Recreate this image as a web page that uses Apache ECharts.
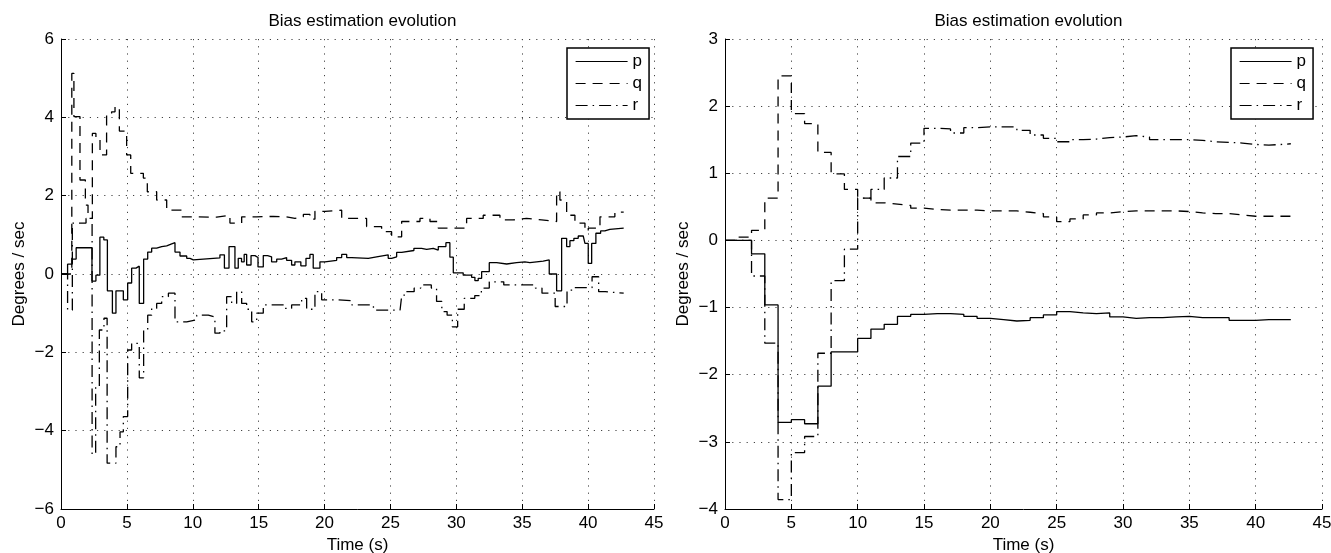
<!DOCTYPE html>
<html>
<head>
<meta charset="utf-8">
<script src="https://cdn.jsdelivr.net/npm/echarts/dist/echarts.min.js"></script>
<style>
  html, body { margin: 0; padding: 0; background: #fff; }
  #chart { width: 1331px; height: 553px; }
</style>
</head>
<body>
<div id="chart"></div>
<script>
// ---- Left panel: bias estimates (step changes at irregular update times) ----
const leftPTime = [0, 0.5, 0.85, 1.15, 2.35, 2.65, 2.95, 3.25, 3.52, 3.9, 4.17, 4.73, 5.06, 5.36, 5.69, 5.94, 6.27, 6.58, 6.88, 7.26, 7.64, 8.02, 8.4, 8.65, 9.03, 9.54, 9.79, 10.04, 12.06, 12.4, 12.75, 13.2, 13.45, 13.7, 13.9, 14.09, 14.42, 14.72, 14.95, 15.35, 15.68, 15.98, 16.37, 16.74, 17.12, 17.5, 17.75, 18.2, 18.59, 18.89, 19.14, 19.65, 20.03, 20.92, 21.3, 21.68, 22.06, 23.32, 23.95, 24.83, 25.09, 25.47, 25.85, 26.78, 27.36, 27.75, 28.25, 28.63, 29.21, 29.51, 29.77, 30.52, 31.16, 31.41, 31.66, 31.92, 32.5, 33.06, 33.82, 34.57, 35.2, 35.58, 36.09, 36.59, 37.05, 37.61, 37.99, 38.37, 38.62, 38.92, 39.25, 39.63, 39.76, 40.01, 40.27, 40.59, 40.95, 41.27, 41.65, 42.7];
const leftP = [0, 0.25, 0.38, 0.67, -0.18, -0.03, 0.94, 0.87, -0.43, -1.0, -0.43, -0.66, -0.23, 0.15, 0.2, -0.75, 0.38, 0.56, 0.66, 0.7, 0.72, 0.77, 0.8, 0.56, 0.46, 0.4, 0.36, 0.41, 0.49, 0.15, 0.70, 0.15, 0.40, 0.31, 0.5, 0.23, 0.47, 0.42, 0.18, 0.47, 0.44, 0.31, 0.38, 0.42, 0.35, 0.23, 0.31, 0.21, 0.40, 0.50, 0.15, 0.31, 0.35, 0.42, 0.50, 0.42, 0.40, 0.44, 0.49, 0.40, 0.44, 0.55, 0.6, 0.655, 0.63, 0.655, 0.61, 0.70, 0.80, 0.43, 0.03, -0.03, -0.085, -0.17, -0.11, 0.06, 0.29, 0.255, 0.29, 0.31, 0.29, 0.31, 0.33, 0.36, 0.0, -0.43, 0.91, 0.70, 0.85, 0.91, 0.97, 1.0, 0.78, 0.27, 0.78, 1.04, 1.10, 1.14, 1.17, 1.17];

const leftQTime = [0, 0.82, 0.98, 1.44, 1.85, 2.05, 2.38, 2.65, 2.96, 3.46, 3.84, 4.1, 4.43, 4.98, 5.29, 6.25, 6.55, 7.26, 8.02, 9.16, 10.3, 11.81, 12.82, 13.71, 14.85, 16.11, 17.07, 17.75, 18.39, 18.89, 19.27, 20.03, 21.3, 23.19, 24.33, 25.09, 25.85, 27.24, 28.0, 28.63, 30.78, 32.04, 33.31, 34.32, 35.33, 36.47, 37.61, 37.86, 38.37, 39.0, 39.76, 40.01, 40.9, 42.03, 42.7];
const leftQ = [0, 5.12, 4.02, 2.4, 1.76, 1.42, 3.59, 3.45, 3.04, 4.06, 4.14, 4.27, 3.65, 3.04, 2.57, 2.45, 2.1, 1.89, 1.63, 1.46, 1.45, 1.5, 1.3, 1.46, 1.47, 1.46, 1.42, 1.46, 1.52, 1.4, 1.6, 1.63, 1.42, 1.21, 1.08, 0.95, 1.34, 1.42, 1.34, 1.17, 1.42, 1.5, 1.38, 1.42, 1.38, 1.34, 2.1, 1.89, 1.5, 1.3, 1.1, 1.17, 1.46, 1.58, 1.58];

const leftRTime = [0, 0.5, 0.86, 1.9, 2.36, 2.63, 2.91, 3.26, 3.5, 4.17, 4.48, 4.73, 5.06, 5.36, 5.94, 6.27, 6.58, 6.88, 7.26, 7.64, 8.15, 8.65, 9.54, 10.3, 11.18, 11.68, 12.06, 12.57, 12.95, 13.33, 13.71, 14.09, 14.47, 14.85, 15.35, 15.98, 16.87, 17.5, 18.26, 18.64, 19.27, 19.78, 21.06, 22.07, 23.71, 25.73, 25.86, 26.1, 26.8, 27.3, 28.1, 28.5, 28.9, 29.3, 29.7, 30.1, 30.6, 31.4, 31.9, 32.5, 33.6, 35.1, 36.0, 36.5, 37.5, 38.4, 38.9, 40.3, 40.8, 41.3, 42.7];
const leftR = [0, -0.92, 1.3, 1.42, -4.6, -2.88, -1.43, -1.13, -4.83, -4.41, -4.03, -3.64, -1.94, -1.77, -2.65, -1.43, -1.05, -0.88, -0.75, -0.58, -0.49, -1.22, -1.17, -1.05, -1.1, -1.51, -1.45, -0.58, -0.75, -0.45, -0.75, -0.9, -1.22, -1.0, -0.79, -0.79, -0.88, -0.79, -0.62, -0.9, -0.45, -0.66, -0.68, -0.79, -0.92, -0.9, -0.54, -0.45, -0.36, -0.28, -0.36, -0.7, -0.96, -1.05, -1.35, -0.9, -0.62, -0.55, -0.36, -0.2, -0.28, -0.28, -0.36, -0.49, -0.83, -0.41, -0.35, -0.07, -0.45, -0.49, -0.49];

// ---- Right panel: bias estimates updated once per second ----
const rightTime = [0, 1, 2, 3, 4, 5, 6, 7, 8, 9, 10, 11, 12, 13, 14, 15, 16, 17, 18, 19, 20, 21, 22, 23, 24, 25, 26, 27, 28, 29, 30, 31, 32, 33, 34, 35, 36, 37, 38, 39, 40, 41, 42, 42.65];
const rightP = [0, 0, -0.2, -0.96, -2.71, -2.67, -2.73, -2.17, -1.66, -1.66, -1.46, -1.32, -1.25, -1.13, -1.1, -1.09, -1.09, -1.1, -1.13, -1.16, -1.18, -1.2, -1.19, -1.15, -1.11, -1.06, -1.08, -1.09, -1.08, -1.14, -1.16, -1.15, -1.15, -1.14, -1.13, -1.15, -1.15, -1.15, -1.19, -1.19, -1.18, -1.18, -1.18, -1.18];
const rightQ = [0, 0.05, 0.15, 0.63, 2.45, 1.89, 1.74, 1.31, 0.99, 0.76, 0.63, 0.56, 0.54, 0.52, 0.48, 0.46, 0.45, 0.45, 0.45, 0.44, 0.44, 0.44, 0.42, 0.40, 0.35, 0.28, 0.32, 0.38, 0.41, 0.43, 0.44, 0.44, 0.44, 0.44, 0.43, 0.41, 0.40, 0.40, 0.38, 0.36, 0.36, 0.36, 0.36, 0.36];
const rightR = [0, 0, -0.53, -1.53, -3.86, -3.16, -2.92, -1.68, -0.6, -0.13, 0.63, 0.76, 0.93, 1.25, 1.45, 1.67, 1.66, 1.6, 1.68, 1.69, 1.69, 1.69, 1.64, 1.57, 1.52, 1.47, 1.5, 1.51, 1.53, 1.54, 1.56, 1.54, 1.5, 1.5, 1.5, 1.49, 1.47, 1.46, 1.45, 1.43, 1.42, 1.43, 1.44, 1.44];

const xTicks = { min: 0, max: 45, interval: 5 };
const leftYTicks = { min: -6, max: 6, interval: 2 };
const rightYTicks = { min: -4, max: 3, interval: 1 };
const seriesNames = ['p', 'q', 'r'];
const titleText = 'Bias estimation evolution';
const xName = 'Time (s)';
const yName = 'Degrees / sec';

const FONT = '"Liberation Sans", Arial, Helvetica, sans-serif';
const BLACK = '#000';
const LINE_W = 1.3;
const DASH_Q = [10, 7];
const DASH_R = [12, 5, 1.5, 5];

function pairs(t, v) {
  const out = [];
  for (let i = 0; i < Math.min(t.length, v.length); i++) out.push([t[i], v[i]]);
  return out;
}
const minusFmt = v => String(v).replace('-', '\u2212');

function xAxisFor(gridIndex) {
  return {
    type: 'value', gridIndex, min: xTicks.min, max: xTicks.max, interval: xTicks.interval,
    name: xName, nameLocation: 'middle', nameGap: 25,
    nameTextStyle: { color: BLACK, fontSize: 17, fontFamily: FONT },
    axisLine: { show: true, onZero: false, lineStyle: { color: BLACK, width: 1 } },
    axisTick: { show: true, inside: true, length: 5, lineStyle: { color: BLACK } },
    axisLabel: { color: BLACK, fontSize: 17, fontFamily: FONT, margin: 6, formatter: minusFmt },
    splitLine: { show: true, lineStyle: { color: '#444', width: 1, type: [1.2, 6] } }
  };
}
function yAxisFor(gridIndex, ticks) {
  return {
    type: 'value', gridIndex, min: ticks.min, max: ticks.max, interval: ticks.interval,
    name: yName, nameLocation: 'middle', nameGap: 33,
    nameTextStyle: { color: BLACK, fontSize: 17, fontFamily: FONT },
    axisLine: { show: true, onZero: false, lineStyle: { color: BLACK, width: 1 } },
    axisTick: { show: true, inside: true, length: 5, lineStyle: { color: BLACK } },
    axisLabel: { color: BLACK, fontSize: 17, fontFamily: FONT, margin: 7, formatter: minusFmt },
    splitLine: { show: true, lineStyle: { color: '#444', width: 1, type: [1.2, 6] } }
  };
}
function stepSeries(name, data, gridIndex, dash) {
  return {
    name, type: 'line', step: 'end', symbol: 'none', showSymbol: false,
    xAxisIndex: gridIndex, yAxisIndex: gridIndex, data,
    lineStyle: { color: BLACK, width: LINE_W, type: dash },
    itemStyle: { color: BLACK },
    emphasis: { disabled: true }, silent: true
  };
}
function legendAt(left) {
  return {
    data: seriesNames,
    orient: 'vertical', left, top: 48,
    itemWidth: 52, itemHeight: 16, itemGap: 5, padding: [5, 7, 5, 8],
    borderColor: BLACK, borderWidth: 1.5, borderRadius: 0, backgroundColor: '#fff',
    selectedMode: false,
    lineStyle: { width: 1.2, opacity: 1 },
    itemStyle: { opacity: 0, borderWidth: 0 },
    textStyle: { color: BLACK, fontSize: 17, fontFamily: FONT, lineHeight: 16 }
  };
}

const chart = echarts.init(document.getElementById('chart'), null, { renderer: 'canvas' });
chart.setOption({
  animation: false,
  backgroundColor: '#fff',
  title: [
    { text: titleText, left: 357.5, top: 8, textAlign: 'center',
      textStyle: { color: BLACK, fontSize: 17, fontWeight: 'normal', fontFamily: FONT } },
    { text: titleText, left: 1023.5, top: 8, textAlign: 'center',
      textStyle: { color: BLACK, fontSize: 17, fontWeight: 'normal', fontFamily: FONT } }
  ],
  legend: [legendAt(567), legendAt(1231)],
  grid: [
    { left: 61, right: 1331 - 654, top: 39, bottom: 553 - 509, containLabel: false, outerBoundsMode: 'none' },
    { left: 725, right: 1331 - 1322, top: 39, bottom: 553 - 509, containLabel: false, outerBoundsMode: 'none' }
  ],
  xAxis: [xAxisFor(0), xAxisFor(1)],
  yAxis: [yAxisFor(0, leftYTicks), yAxisFor(1, rightYTicks)],
  series: [
    stepSeries('p', pairs(leftPTime, leftP), 0, 'solid'),
    stepSeries('q', pairs(leftQTime, leftQ), 0, DASH_Q),
    stepSeries('r', pairs(leftRTime, leftR), 0, DASH_R),
    stepSeries('p', pairs(rightTime, rightP), 1, 'solid'),
    stepSeries('q', pairs(rightTime, rightQ), 1, DASH_Q),
    stepSeries('r', pairs(rightTime, rightR), 1, DASH_R)
  ]
});
</script>
</body>
</html>
